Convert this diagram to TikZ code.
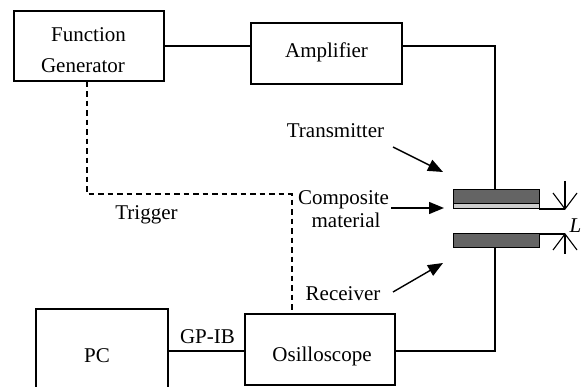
\documentclass[tikz,border=0pt]{standalone}
\usepackage{fontspec}
\setmainfont{Liberation Serif}
\usetikzlibrary{arrows.meta}
\definecolor{plate}{RGB}{100,100,100}
\definecolor{film}{RGB}{205,205,205}
\begin{document}
\begin{tikzpicture}[x=1pt,y=-1pt,
  line width=1.1pt,
  txt/.style={font=\fontsize{21}{25}\selectfont, inner sep=0pt},
  box/.style={draw, rectangle, inner sep=0pt, align=center},
  dsh/.style={dash pattern=on 5.5pt off 4pt},
  lbl/.style={-{Triangle[length=15pt,width=12pt]}, line width=1.4pt},
  platebox/.style={draw, rectangle, inner sep=0pt, outer sep=0pt, minimum width=86pt, line width=1pt}
]
\clip (0,0) rectangle (586,387);
% boxes
\node[box, minimum width=150pt, minimum height=70pt] (fg) at (89,46) {};
\node[txt, anchor=base] (fgt1) at (88.5,42) {Function};
\node[txt, anchor=base] (fgt2) at (83,73) {Generator};
\node[box, minimum width=151pt, minimum height=61pt] (amp) at (326.5,53.5) {};
\node[txt, anchor=base] (ampt) at (326.5,58) {Amplifier};
\node[box, minimum width=132pt, minimum height=100pt] (pc) at (102,359) {};
\node[txt, anchor=base] (pct) at (97,362) {PC};
\node[box, minimum width=150pt, minimum height=71pt] (osc) at (320,349.5) {};
\node[txt, anchor=base] (osct) at (322,361) {Osilloscope};
% transducers
\node[platebox, fill=plate, minimum height=14pt] (tx) at (496,197) {};
\node[platebox, fill=film, minimum height=5pt, anchor=north] (cm) at (tx.south) {};
\node[platebox, fill=plate, minimum height=14pt] (rx) at (496,241) {};
% labels
\node[txt, anchor=base] (ttx) at (335.5,138) {Transmitter};
\node[txt, anchor=base] (tcm1) at (343.5,205) {Composite};
\node[txt, anchor=base] (tcm2) at (346,228) {material};
\node[txt, anchor=base] (trx) at (343,300) {Receiver};
\node[txt, anchor=base] (ttrig) at (146.5,220) {Trigger};
\node[txt, anchor=base] (tgp) at (207.5,343) {GP-IB};
\node[txt, anchor=base, font=\fontsize{21}{25}\selectfont\itshape] (tL) at (575.5,233) {L};
% connectors
\draw (fg.east |- 0,46) -- (amp.west |- 0,46);
\draw (amp.east |- 0,46) -- (495,46) -- (tx.north -| 495,0);
\draw (rx.south -| 495,0) -- (495,351) -- (osc.east |- 0,351);
\draw (pc.east |- 0,351) -- (osc.west |- 0,351);
\draw[dsh] (fg.south -| 87,0) -- (87,194) -- (292,194) -- (osc.north -| 292,0);
% label arrows
\coordinate (a1s) at (393,147);
\coordinate (a1e) at (443,172);
\coordinate (a2s) at (391,208);
\coordinate (a2e) at (444,208);
\coordinate (a3s) at (393,292);
\coordinate (a3e) at (443,263);
\draw[lbl] (a1s) -- (a1e);
\draw[lbl] (a2s) -- (a2e);
\draw[lbl] (a3s) -- (a3e);
% dimension
\coordinate (d1) at (565,209);
\coordinate (d1s) at (565,181);
\coordinate (d2) at (565,234);
\coordinate (d2s) at (565,254);
\draw (cm.south east) -- (d1);
\draw (rx.north east) -- (d2);
\draw (d1s) -- (d1);
\draw (d2s) -- (d2);
\draw (553,193) -- (d1) -- (577,193);
\draw (553,250) -- (d2) -- (577,250);
\end{tikzpicture}
\end{document}
